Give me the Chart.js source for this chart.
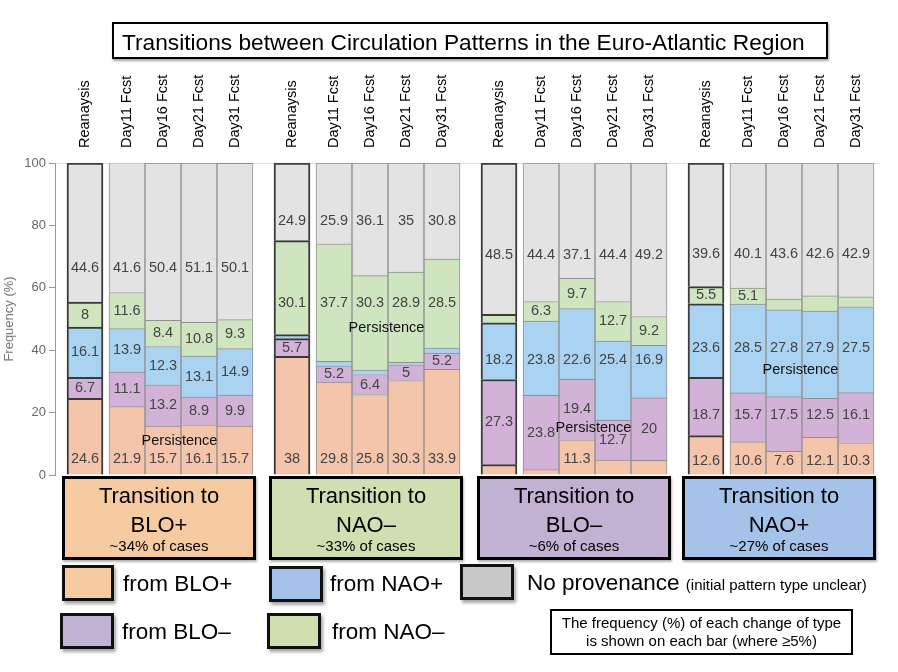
<!DOCTYPE html>
<html>
<head>
<meta charset="utf-8">
<script src="https://cdn.jsdelivr.net/npm/chart.js@4"></script>
<style>
  html, body { margin: 0; padding: 0; background: #fff; }
  body { width: 898px; height: 672px; position: relative; overflow: hidden;
         font-family: "Liberation Sans", Arial, sans-serif; color: #000; }
  #c { position: absolute; left: 0; top: 0; }
  .abs { position: absolute; }
  .title { left: 112px; top: 22px; width: 716px; height: 37px; box-sizing: border-box;
           border: 2px solid #000; box-shadow: 1px 2px 2px rgba(0,0,0,0.35);
           font-size: 22.7px; line-height: 26px; padding: 5px 0 0 8px; white-space: nowrap; background:#fff; }
  .tbox { top: 476px; width: 194px; height: 84px; box-sizing: border-box; border: 3px solid #000;
          text-align: center; padding-top: 2px; box-shadow: 1px 2px 2px rgba(0,0,0,0.3); }
  .tbox .l1 { font-size: 22px; line-height: 29px; }
  .tbox .l3 { font-size: 15px; line-height: 13px; }
  .sw { box-sizing: border-box; border: 3px solid #111; box-shadow: 2px 3px 3px rgba(0,0,0,0.35); }
  .lt { font-size: 22.5px; line-height: 22px; white-space: nowrap; }
  .small { font-size: 15px; }
  .note { left: 550px; top: 609px; width: 303px; height: 46px; box-sizing: border-box;
          border: 2px solid #000; text-align: center; font-size: 15px; line-height: 18px; padding-top: 3px; }
</style>
</head>
<body>
<canvas id="c" width="898" height="672"></canvas>

<div class="abs title">Transitions between Circulation Patterns in the Euro-Atlantic Region</div>

<div class="abs tbox" style="left:62px; background:#F7CBA2;"><div class="l1">Transition to</div><div class="l1">BLO+</div><div class="l3">~34% of cases</div></div>
<div class="abs tbox" style="left:269px; background:#D0DFB2;"><div class="l1">Transition to</div><div class="l1">NAO–</div><div class="l3">~33% of cases</div></div>
<div class="abs tbox" style="left:477px; background:#C2B1D3;"><div class="l1">Transition to</div><div class="l1">BLO–</div><div class="l3">~6% of cases</div></div>
<div class="abs tbox" style="left:682px; background:#A5C3E8;"><div class="l1">Transition to</div><div class="l1">NAO+</div><div class="l3">~27% of cases</div></div>

<div class="abs sw" style="left:62px; top:565px; width:52px; height:36px; background:#F7CBA2;"></div>
<div class="abs lt" style="left:123px; top:573px;">from BLO+</div>
<div class="abs sw" style="left:60px; top:613px; width:54px; height:36px; background:#C2B2D4;"></div>
<div class="abs lt" style="left:122px; top:621px;">from BLO–</div>
<div class="abs sw" style="left:269px; top:566px; width:54px; height:36px; background:#A4C2E7;"></div>
<div class="abs lt" style="left:330px; top:573px;">from NAO+</div>
<div class="abs sw" style="left:267px; top:613px; width:54px; height:36px; background:#CFDFAF;"></div>
<div class="abs lt" style="left:332px; top:621px;">from NAO–</div>
<div class="abs sw" style="left:460px; top:564px; width:54px; height:36px; background:#C8C8C8;"></div>
<div class="abs lt" style="left:527px; top:572px;">No provenance <span class="small">(initial pattern type unclear)</span></div>

<div class="abs note">The frequency (%) of each change of type<br>is shown on each bar (where ≥5%)</div>

<script>
// ---------------- data ----------------
const groups = ['BLO+', 'NAO–', 'BLO–', 'NAO+'];
const categories = ['Reanaysis', 'Day11 Fcst', 'Day16 Fcst', 'Day21 Fcst', 'Day31 Fcst'];
const yTicks = [0, 20, 40, 60, 80, 100];

const fromBLOplus  = [24.6, 21.9, 15.7, 16.1, 15.7,  38, 29.8, 25.8, 30.3, 33.9,  3.3, 1.7, 11.3, 4.8, 4.7,  12.6, 10.6, 7.6, 12.1, 10.3];
const fromBLOminus = [6.7, 11.1, 13.2, 8.9, 9.9,  5.7, 5.2, 6.4, 5, 5.2,  27.3, 23.8, 19.4, 12.7, 20,  18.7, 15.7, 17.5, 12.5, 16.1];
const fromNAOplus  = [16.1, 13.9, 12.3, 13.1, 14.9,  1.3, 1.4, 1.4, 0.8, 1.6,  18.2, 23.8, 22.6, 25.4, 16.9,  23.6, 28.5, 27.8, 27.9, 27.5];
const fromNAOminus = [8, 11.6, 8.4, 10.8, 9.3,  30.1, 37.7, 30.3, 28.9, 28.5,  2.7, 6.3, 9.7, 12.7, 9.2,  5.5, 5.1, 3.5, 4.9, 3.2];
const noProvenance = [44.6, 41.6, 50.4, 51.1, 50.1,  24.9, 25.9, 36.1, 35, 30.8,  48.5, 44.4, 37.1, 44.4, 49.2,  39.6, 40.1, 43.6, 42.6, 42.9];

const seriesNames = ['from BLO+', 'from BLO–', 'from NAO+', 'from NAO–', 'No provenance'];
const seriesValues = [fromBLOplus, fromBLOminus, fromNAOplus, fromNAOminus, noProvenance];

// ---------------- layout (not data) ----------------
const GROUP_STEP = 5.75;     // in bar-width units
const FCST_GAP = 1 / 6;      // small gap after the reanalysis bar
const slotOf = (i) => {
  const g = Math.floor(i / categories.length), j = i % categories.length;
  return g * GROUP_STEP + (j === 0 ? 0 : j + FCST_GAP);
};
const barColors = ['#F4C4AB', '#D3B2D8', '#AAD3F1', '#CFE5C0', '#E3E3E3'];
const greyLabelLevels = [66.3, 81.3, 70.6, 70.9];
const persistenceLevels = [11.0, 47.1, 15.2, 33.5];
const bottomLabelOffset = [15.5, 15.5, 15.5, 13.5];
// label rows that are aligned at one height across a group ("group-dataset": level)
const alignedLevels = { '1-3': 55.2, '2-2': 36.9, '3-1': 19.2, '3-2': 40.8 };

Chart.defaults.font.family = '"Liberation Sans", Arial, sans-serif';

const datasets = seriesValues.map((vals, k) => ({
  label: seriesNames[k],
  data: vals.map((v, i) => ({ x: slotOf(i), y: v })),
  backgroundColor: barColors[k],
  borderColor: (c) => (c.dataIndex % 5 === 0 ? '#3a3a3a' : '#8f8f8f'),
  borderWidth: (c) => (c.dataIndex % 5 === 0 ? 2 : 1),
  borderSkipped: 'start',
  barThickness: 36
}));

const labelPlugin = {
  id: 'segLabels',
  afterDatasetsDraw(chart) {
    const ctx = chart.ctx;
    const yS = chart.scales.y;
    ctx.save();
    ctx.font = '14.5px "Liberation Sans", Arial, sans-serif';
    ctx.fillStyle = '#444';
    ctx.textAlign = 'center';
    ctx.textBaseline = 'middle';
    chart.data.datasets.forEach((ds, di) => {
      const meta = chart.getDatasetMeta(di);
      meta.data.forEach((bar, i) => {
        const v = ds.data[i].y;
        if (v < 5) return;
        const g = Math.floor(i / 5);
        const key = g + '-' + di;
        let y;
        if (di === 0) y = bar.base - bottomLabelOffset[g];
        else if (di === seriesValues.length - 1) y = yS.getPixelForValue(greyLabelLevels[g]);
        else if (key in alignedLevels) y = yS.getPixelForValue(alignedLevels[key]);
        else y = (bar.y + bar.base) / 2;
        ctx.fillText(String(v), bar.x, y);
      });
    });
    const meta0 = chart.getDatasetMeta(0);
    ctx.fillStyle = '#111';
    groups.forEach((gname, g) => {
      const x = (meta0.data[g * 5 + 2].x + meta0.data[g * 5 + 3].x) / 2 - 1.5;
      ctx.fillText('Persistence', x, yS.getPixelForValue(persistenceLevels[g]));
    });
    ctx.fillStyle = '#000';
    ctx.textAlign = 'left';
    meta0.data.forEach((bar, i) => {
      ctx.save();
      ctx.translate(bar.x, chart.chartArea.top - 15);
      ctx.rotate(-Math.PI / 2);
      ctx.fillText(categories[i % 5], 0, 0);
      ctx.restore();
    });
    ctx.restore();
  }
};

new Chart(document.getElementById('c'), {
  type: 'bar',
  data: { datasets },
  plugins: [labelPlugin],
  options: {
    responsive: false,
    animation: false,
    devicePixelRatio: 1,
    layout: { padding: { top: 163, right: 18, bottom: 197, left: 0 } },
    plugins: { legend: { display: false }, tooltip: { enabled: false }, title: { display: false } },
    scales: {
      x: {
        type: 'linear', stacked: true, display: false, offset: false,
        min: -0.8333, max: 22.0833
      },
      y: {
        stacked: true, min: 0, max: 100,
        afterBuildTicks: (s) => { s.ticks = yTicks.map(v => ({ value: v })); },
        afterFit: (s) => { s.width = 55; },
        ticks: { color: '#666', font: { size: 13 }, padding: 3 },
        grid: {
          drawOnChartArea: true,
          color: (c) => (c.tick && c.tick.value === 100 ? '#e2e2e2' : 'rgba(0,0,0,0)'),
          tickColor: '#999', tickLength: 6
        },
        border: { color: '#999' },
        title: { display: true, text: 'Frequency (%)', color: '#777', font: { size: 13 }, padding: { top: 2, bottom: 0 } }
      }
    }
  }
});
</script>
</body>
</html>
